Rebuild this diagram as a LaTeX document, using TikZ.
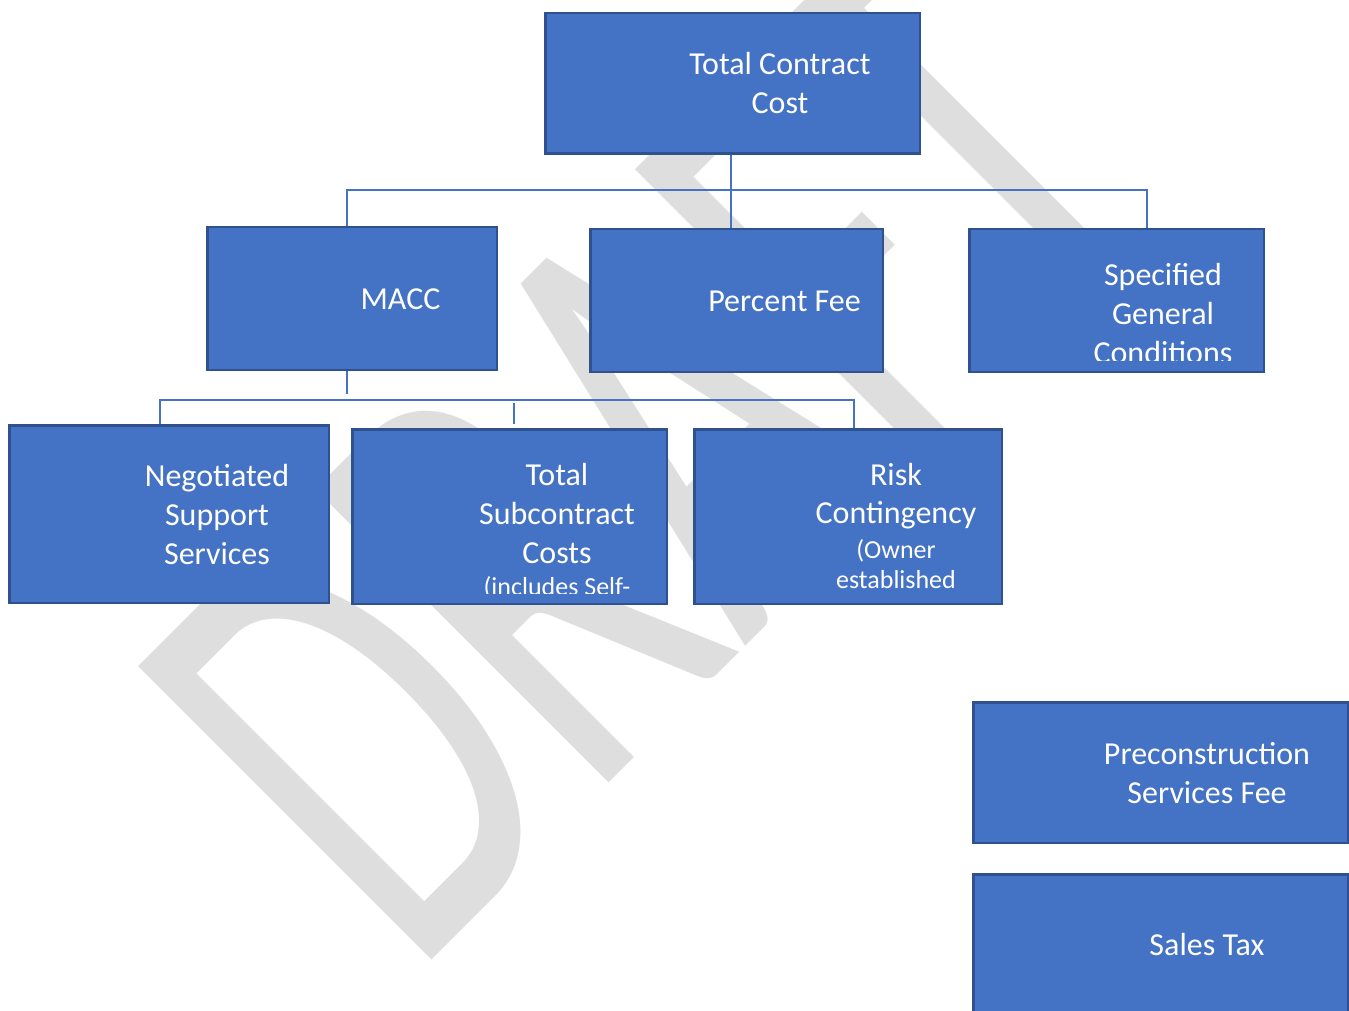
\documentclass[tikz,border=0pt]{standalone}
\usepackage{fontspec}
\setmainfont{Carlito}
\definecolor{boxblue}{HTML}{4472C4}
\definecolor{boxedge}{HTML}{2F528F}
\definecolor{wmgray}{HTML}{DEDEDE}
\newcommand{\lns}[1]{\vtop{\baselineskip=39pt\lineskiplimit=-100pt\halign{\hfil##\hfil\cr#1\crcr}}}
\newcommand{\sm}{\fontsize{26}{32}\selectfont}
\begin{document}
\begin{tikzpicture}[x=1pt,y=-1pt,
  box/.style={draw=boxedge, fill=boxblue, line width=2.5pt, inner sep=0pt},
  lbl/.style={text=white, inner sep=0pt, anchor=base, font=\fontsize{32}{39}\selectfont},
  link/.style={draw=boxblue, line width=1.3pt}]
\useasboundingbox (0,0) rectangle (1349,1011);
\begin{scope}
\clip (0,0) rectangle (1349,1011);
% watermark
\node[anchor=base west, rotate=45, inner sep=0pt, text=wmgray,
      font=\fontsize{405}{405}\selectfont] (wm) at (412.25,979.75) {\scalebox{1}[1.597]{DRAFT}};
% boxes
\node[box, minimum width=374.5pt, minimum height=140.5pt] (tcc)  at (732.5,83.5) {};
\node[box, minimum width=289.5pt, minimum height=142.5pt] (macc) at (352,298.5) {};
\node[box, minimum width=292.5pt, minimum height=142.5pt] (pf)   at (736.5,300.5) {};
\node[box, minimum width=294.5pt, minimum height=142.5pt] (sgc)  at (1116.5,300.5) {};
\node[box, minimum width=319.5pt, minimum height=177.5pt] (nss)  at (169,514) {};
\node[box, minimum width=314.5pt, minimum height=174.5pt] (tsc)  at (509.5,516.5) {};
\node[box, minimum width=307.5pt, minimum height=174.5pt] (rc)   at (848,516.5) {};
\node[box, minimum width=374.5pt, minimum height=140.5pt] (psf)  at (1160.5,772.5) {};
\node[box, minimum width=374.5pt, minimum height=164.5pt] (st)   at (1160.5,956.5) {};
% connectors
\draw[link] ([xshift=-1.5pt]tcc.south) -- ([xshift=-1.5pt]tcc.south |- pf.north);
\coordinate (busA) at (731,190);
\draw[link] (busA) -| ([xshift=-5pt]macc.north);
\draw[link] (busA) -| ([xshift=30.5pt]sgc.north);
\draw[link] ([xshift=-5pt]macc.south) -- ++(0,23);
\coordinate (busB) at (347,400);
\draw[link] (busB) -| ([xshift=-9pt]nss.north);
\draw[link] (busB) -| ([xshift=6pt]rc.north);
\draw[link] ([xshift=4.5pt,yshift=4pt]tsc.north) -- ++(0,-21);
% labels
\node[lbl] (tcc-t)  at (780,75)  {\lns{Total Contract\cr Cost}};
\node[lbl] (macc-t) at (400.5,309) {MACC};
\node[lbl] (pf-t)   at (784.5,311) {Percent Fee};
\begin{scope}
\clip (968,228) rectangle (1265,360);
\node[lbl] (sgc-t)  at (1163,285) {\lns{Specified\cr General\cr Conditions}};
\end{scope}
\node[lbl] (nss-t)  at (217,486) {\lns{Negotiated\cr Support\cr Services}};
\begin{scope}
\clip (351,428) rectangle (668,593);
\node[lbl] (tsc-t)  at (557,485) {\lns{Total\cr Subcontract\cr Costs\cr\noalign{\vskip-7pt}{\sm (includes Self-}\cr}};
\end{scope}
\node[lbl] (rc-t)   at (896,485) {\lns{Risk\cr\noalign{\vskip-1pt}Contingency\cr\noalign{\vskip-4pt}{\sm (Owner}\cr\noalign{\vskip-9pt}{\sm established}\cr}};
\node[lbl] (psf-t)  at (1207,764) {\lns{Preconstruction\cr Services Fee}};
\node[lbl] (st-t)   at (1207,955) {Sales Tax};
\end{scope}
\end{tikzpicture}
\end{document}
